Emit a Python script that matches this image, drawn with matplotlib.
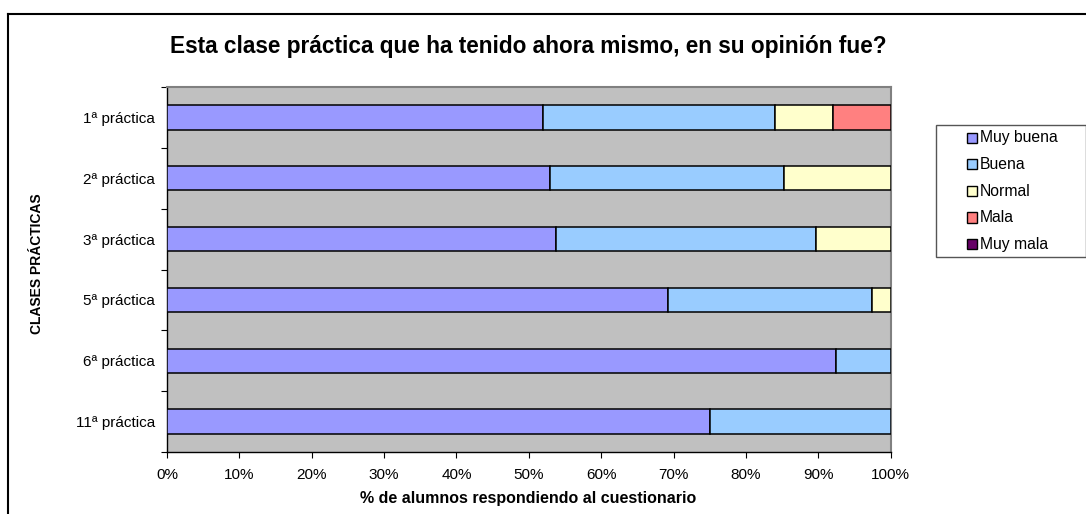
import matplotlib
matplotlib.use('Agg')
import matplotlib.pyplot as plt
import matplotlib.patches as mpatches
import matplotlib.ticker as mticker
import numpy as np

plt.rcParams['font.family'] = ['Liberation Sans', 'DejaVu Sans']

categories = ['1ª práctica', '2ª práctica', '3ª práctica', '5ª práctica', '6ª práctica', '11ª práctica']
series_names = ['Muy buena', 'Buena', 'Normal', 'Mala', 'Muy mala']
muy_buena = [52.0, 52.9, 53.8, 69.2, 92.4, 75.0]
buena = [32.0, 32.4, 35.9, 28.2, 7.6, 25.0]
normal = [8.0, 14.7, 10.3, 2.6, 0.0, 0.0]
mala = [8.0, 0.0, 0.0, 0.0, 0.0, 0.0]
muy_mala = [0.0, 0.0, 0.0, 0.0, 0.0, 0.0]
colors = ['#9999FF', '#99CCFF', '#FFFFCC', '#FF8080', '#660066']

W, H = 1086, 514
fig = plt.figure(figsize=(W / 100, H / 100), dpi=100)

# plot area in pixel coordinates
px_l, px_r, px_t, px_b = 167, 890.7, 87, 452
ax = fig.add_axes([px_l / W, 1 - px_b / H, (px_r - px_l) / W, (px_b - px_t) / H])
ax.set_facecolor('#C0C0C0')

y = np.arange(len(categories))
left = np.zeros(len(categories))
for vals, col, name in zip([muy_buena, buena, normal, mala, muy_mala], colors, series_names):
    vals = np.array(vals)
    mask = vals > 0
    ax.barh(y[mask], vals[mask], left=left[mask], height=0.4, color=col,
            edgecolor='black', linewidth=1.1, label=name, zorder=3)
    left += vals

ax.set_xlim(0, 100)
ax.set_ylim(len(categories) - 0.5, -0.5)

ax.xaxis.set_major_locator(mticker.MultipleLocator(10))
ax.xaxis.set_major_formatter(mticker.FuncFormatter(lambda v, p: '%d%%' % v))
ax.tick_params(axis='x', direction='out', length=4, width=0.8, pad=7.5, labelsize=11)

# category separators as major ticks, names as minor ticks
ax.set_yticks(np.arange(-0.5, len(categories), 1.0))
ax.set_yticklabels([])
ax.set_yticks(y, minor=True)
ax.set_yticklabels(categories, minor=True)
ax.tick_params(axis='y', which='major', direction='out', length=4, width=0.8)
ax.tick_params(axis='y', which='minor', length=0, pad=8.5, labelsize=11)

for s in ['top', 'right']:
    ax.spines[s].set_color('#808080')
    ax.spines[s].set_linewidth(1.5)
for s in ['left', 'bottom']:
    ax.spines[s].set_color('black')
    ax.spines[s].set_linewidth(1.0)

fig.text(528 / W, 1 - 47 / H, 'Esta clase práctica que ha tenido ahora mismo, en su opinión fue?',
         ha='center', va='center', fontsize=16.3, fontweight='bold')
fig.text(528.5 / W, 1 - 499 / H, '% de alumnos respondiendo al cuestionario',
         ha='center', va='center', fontsize=11.5, fontweight='bold')
fig.text(37 / W, 1 - 264 / H, 'CLASES PRÁCTICAS', rotation=90,
         ha='center', va='center', fontsize=10, fontweight='bold')

# legend box
fig.patches.append(mpatches.Rectangle((935.5 / W, 1 - 257 / H), 150 / W, 132 / H,
                                      transform=fig.transFigure, facecolor='white',
                                      edgecolor='#555555', linewidth=1.0))
for i, (name, col) in enumerate(zip(series_names, colors)):
    yc = 138 + i * 26.5
    fig.patches.append(mpatches.Rectangle((966.5 / W, 1 - (yc + 5) / H), 10 / W, 10 / H,
                                          transform=fig.transFigure, facecolor=col,
                                          edgecolor='black', linewidth=1.0))
    fig.text(980 / W, 1 - yc / H, name, ha='left', va='center', fontsize=11.3)

# outer chart border (top and left edges)
fig.add_artist(plt.Line2D([8 / W, 8 / W], [0, 1 - 13.5 / H], color='black', linewidth=1.5,
                          transform=fig.transFigure))
fig.add_artist(plt.Line2D([8 / W, 1], [1 - 13.5 / H, 1 - 13.5 / H], color='black', linewidth=1.5,
                          transform=fig.transFigure))

fig.savefig('out.png', dpi=100, facecolor='white')
